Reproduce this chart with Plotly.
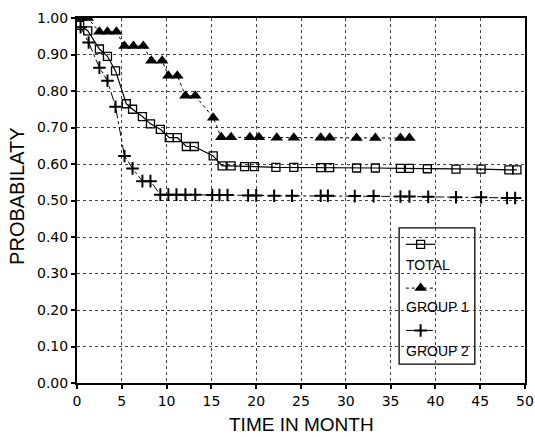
import plotly.graph_objects as go

# ---- data ----
total_t = [0.3, 1.2, 2.5, 3.4, 4.3, 5.5, 6.2, 7.3, 8.2, 9.3, 10.3, 11.2, 12.2, 13.1,
           15.2, 16.2, 17.2, 18.7, 19.8, 22.2, 24.2, 27.2, 28.2, 31.2, 33.3, 36.1,
           37.1, 39.1, 42.3, 45.1, 48.2, 49.1]
total_p = [0.98, 0.965, 0.915, 0.895, 0.855, 0.765, 0.75, 0.73, 0.71, 0.695, 0.672, 0.672,
           0.648, 0.648, 0.622, 0.595, 0.595, 0.593, 0.593, 0.591, 0.591, 0.59, 0.59,
           0.589, 0.589, 0.588, 0.588, 0.587, 0.586, 0.586, 0.584, 0.584]

g1_t = [0.4, 1.2, 2.5, 3.4, 4.4, 5.3, 6.3, 7.4, 8.3, 9.5, 10.2, 11.2, 12.1, 13.2,
        15.2, 16.1, 17.2, 19.3, 20.3, 22.3, 24.2, 27.2, 28.2, 31.2, 33.3, 36.1, 37.1]
g1_p = [1.0, 1.0, 0.962, 0.962, 0.962, 0.923, 0.923, 0.923, 0.883, 0.883, 0.842, 0.842,
        0.787, 0.787, 0.727, 0.673, 0.673, 0.673, 0.673, 0.672, 0.672, 0.672, 0.672,
        0.671, 0.671, 0.671, 0.671]

g2_t = [0.4, 1.3, 2.5, 3.4, 4.3, 5.3, 6.2, 7.3, 8.2, 9.3, 10.2, 11.1, 12.1, 13.2,
        15.1, 15.9, 16.8, 19.1, 20.0, 22.0, 24.0, 27.2, 28.0, 31.0, 33.1, 36.1, 37.1,
        39.2, 42.3, 45.1, 48.0, 48.9]
g2_p = [0.975, 0.933, 0.864, 0.828, 0.757, 0.622, 0.588, 0.553, 0.553, 0.516, 0.516,
        0.516, 0.516, 0.516, 0.515, 0.515, 0.515, 0.514, 0.514, 0.513, 0.513, 0.513,
        0.513, 0.512, 0.512, 0.511, 0.511, 0.51, 0.509, 0.509, 0.507, 0.507]

x_ticks = [0, 5, 10, 15, 20, 25, 30, 35, 40, 45, 50]
y_ticks = [0.0, 0.1, 0.2, 0.3, 0.4, 0.5, 0.6, 0.7, 0.8, 0.9, 1.0]

legend_names = ["TOTAL", "GROUP 1", "GROUP 2"]

# ---- figure ----
fig = go.Figure()

fig.add_trace(go.Scatter(
    x=total_t, y=total_p, mode="lines+markers", name=legend_names[0],
    line=dict(color="black", width=1.2),
    marker=dict(symbol="square-open", size=8, color="black", line=dict(width=1.3)),
    showlegend=False))

fig.add_trace(go.Scatter(
    x=g1_t, y=g1_p, mode="lines+markers", name=legend_names[1],
    line=dict(color="black", width=1, dash="dot"),
    marker=dict(symbol="triangle-up", size=11, color="black"),
    showlegend=False))

fig.add_trace(go.Scatter(
    x=g2_t, y=g2_p, mode="lines+markers", name=legend_names[2],
    line=dict(color="black", width=1, dash="dashdot"),
    marker=dict(symbol="cross-thin-open", size=9, color="black", line=dict(width=2, color="black")),
    showlegend=False))

# ---- hand-drawn legend (symbol above label), on an overlay axis in plot-fraction units ----
leg_x0, leg_x1 = 0.734, 0.800
leg_mid = (leg_x0 + leg_x1) / 2
sym_y = [0.380, 0.260, 0.144]
txt_y = [0.324, 0.207, 0.0875]
styles = [
    (dict(color="black", width=1.2), dict(symbol="square-open", size=8, color="black", line=dict(width=1.3))),
    (dict(color="black", width=1, dash="dot"), dict(symbol="triangle-up", size=11, color="black")),
    (dict(color="black", width=1, dash="dash"), dict(symbol="cross-thin-open", size=9, color="black", line=dict(width=2, color="black"))),
]
for i, (ln, mk) in enumerate(styles):
    fig.add_trace(go.Scatter(x=[leg_x0, leg_x1], y=[sym_y[i], sym_y[i]], mode="lines",
                             line=ln, xaxis="x2", yaxis="y2", showlegend=False, hoverinfo="skip"))
    fig.add_trace(go.Scatter(x=[leg_mid], y=[sym_y[i]], mode="markers", marker=mk,
                             xaxis="x2", yaxis="y2", showlegend=False, hoverinfo="skip"))
    fig.add_annotation(x=0.731, y=txt_y[i], xref="paper", yref="paper", text=legend_names[i],
                       showarrow=False, xanchor="left", yanchor="middle",
                       font=dict(family="Liberation Sans", size=14, color="black"))

fig.add_shape(type="rect", xref="paper", yref="paper", x0=0.719, x1=0.888, y0=0.0515, y1=0.425,
              line=dict(color="black", width=1.3), fillcolor="white", layer="between")

# axis titles
fig.add_annotation(x=-0.133, y=0.511, xref="paper", yref="paper", text="PROBABILATY",
                   textangle=-90, showarrow=False, xanchor="center", yanchor="middle",
                   font=dict(family="Liberation Sans", size=20, color="black"))
fig.add_annotation(x=0.5, y=-0.1125, xref="paper", yref="paper", text="TIME IN MONTH",
                   showarrow=False, xanchor="center", yanchor="middle",
                   font=dict(family="Liberation Sans", size=19, color="black"))

grid = dict(showgrid=True, gridcolor="#444444", gridwidth=1, griddash="dot")
fig.update_layout(
    width=544, height=437,
    margin=dict(l=77, r=10, t=14, b=54),
    plot_bgcolor="white", paper_bgcolor="white",
    font=dict(family="DejaVu Sans", size=14, color="black"),
    xaxis=dict(range=[0, 50], tickmode="array", tickvals=x_ticks, ticktext=[str(v) for v in x_ticks],
               ticks="outside", ticklen=4, tickwidth=1.5, tickcolor="black",
               ticklabeloverflow="allow",
               showline=True, linecolor="black", linewidth=2, mirror=True,
               zeroline=False, **grid),
    yaxis=dict(range=[0, 1.0], tickmode="array", tickvals=y_ticks,
               ticktext=[f"{v:.2f}" for v in y_ticks],
               ticks="outside", ticklen=4, tickwidth=1.5, tickcolor="black",
               ticklabeloverflow="allow",
               showline=True, linecolor="black", linewidth=2, mirror=True,
               zeroline=False, **grid),
    xaxis2=dict(range=[0, 1], overlaying="x", visible=False, fixedrange=True),
    yaxis2=dict(range=[0, 1], overlaying="y", visible=False, fixedrange=True),
    showlegend=False,
)

fig.write_html("out.html", config={"displayModeBar": False},
               post_script="document.body.style.margin='0';document.body.style.overflow='hidden';")
